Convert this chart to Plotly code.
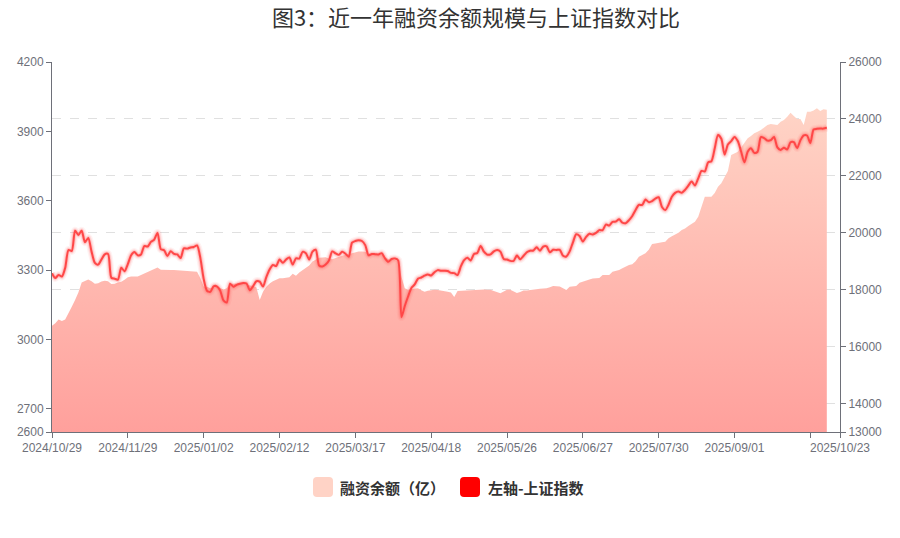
import pandas as pd
import plotly.graph_objects as go

# ---- categories: trading days (SSE calendar) ----
holidays = ["2025-01-01", "2025-01-28", "2025-01-29", "2025-01-30", "2025-01-31",
            "2025-02-03", "2025-02-04", "2025-04-04", "2025-05-01", "2025-05-02",
            "2025-05-05", "2025-06-02", "2025-10-01", "2025-10-02", "2025-10-03",
            "2025-10-06", "2025-10-07", "2025-10-08"]
days = pd.bdate_range("2024-10-29", "2025-10-23")
days = [d for d in days if d.strftime("%Y-%m-%d") not in holidays]
dates = [d.strftime("%Y/%m/%d") for d in days]

# 上证指数 (left axis)
sh_index = [
    3286, 3266, 3279, 3272, 3310, 3387, 3383, 3470, 3452, 3470,
    3421, 3439, 3380, 3331, 3324, 3346, 3368, 3370, 3267, 3263,
    3259, 3310, 3295, 3326, 3364, 3378, 3364, 3368, 3404, 3402,
    3422, 3432, 3461, 3391, 3386, 3361, 3382, 3370, 3368, 3352,
    3394, 3393, 3398, 3400, 3407, 3352, 3262, 3211, 3206, 3230,
    3230, 3212, 3169, 3160, 3241, 3228, 3236, 3241, 3244, 3242,
    3213, 3231, 3252, 3250, 3229, 3270, 3303, 3322, 3318, 3346,
    3332, 3346, 3355, 3324, 3351, 3350, 3379, 3373, 3346, 3380,
    3388, 3320, 3316, 3324, 3342, 3381, 3372, 3366, 3379, 3371,
    3358, 3419, 3426, 3429, 3426, 3408, 3364, 3370, 3369, 3368,
    3373, 3351, 3336, 3348, 3350, 3342, 3097, 3145, 3186, 3223,
    3238, 3263, 3268, 3276, 3281, 3277, 3291, 3300, 3297, 3297,
    3296, 3288, 3287, 3279, 3316, 3343, 3353, 3342, 3370, 3374,
    3404, 3380, 3367, 3368, 3381, 3387, 3380, 3348, 3346, 3340,
    3340, 3363, 3347, 3361, 3377, 3384, 3385, 3399, 3384, 3402,
    3403, 3377, 3388, 3387, 3388, 3362, 3359, 3381, 3420, 3455,
    3448, 3424, 3444, 3457, 3454, 3461, 3473, 3473, 3497, 3493,
    3509, 3510, 3520, 3505, 3503, 3516, 3534, 3560, 3582, 3582,
    3605, 3594, 3598, 3609, 3615, 3573, 3560, 3583, 3617, 3634,
    3640, 3635, 3647, 3665, 3683, 3666, 3697, 3729, 3727, 3766,
    3771, 3826, 3884, 3868, 3800, 3843, 3858, 3876, 3858, 3813,
    3766, 3812, 3827, 3807, 3812, 3875, 3871, 3860, 3862, 3876,
    3831, 3820, 3829, 3822, 3853, 3853, 3828, 3862, 3883, 3882,
    3850, 3908, 3911, 3912, 3912, 3916]

# 融资余额（亿） (right axis)
margin_balance = [
    16730, 16820, 16950, 16900, 16950, 17150, 17400, 17640, 17900, 18250,
    18320, 18360, 18300, 18210, 18230, 18290, 18310, 18300, 18200, 18210,
    18250, 18280, 18350, 18440, 18460, 18450, 18460, 18520, 18570, 18630,
    18690, 18740, 18780, 18700, 18690, 18700, 18690, 18690, 18680, 18670,
    18660, 18650, 18640, 18630, 18630, 18400, 18110, 18100, 18050, 18080,
    18100, 18060, 18010, 18050, 18200, 18210, 18220, 18230, 18230, 18200,
    18150, 18130, 18080, 17640, 17930, 18100, 18220, 18300, 18360, 18400,
    18400, 18430, 18440, 18560, 18490, 18600, 18680, 18750, 18850, 18990,
    19050, 19120, 19130, 19140, 19100, 19070, 19110, 19160, 19190, 19220,
    19250, 19280, 19310, 19340, 19340, 19330, 19270, 19240, 19230, 19220,
    19220, 19150, 19070, 19050, 19040, 18990, 18450, 18050, 18000, 18020,
    18040, 18047, 17980, 17930, 17960, 17990, 18000, 17990, 17970, 17970,
    17930, 17900, 17740, 17950, 17960, 17970, 17970, 17980, 17990, 18000,
    18000, 18010, 18000, 18000, 17950, 17900, 17873, 17940, 18000, 18000,
    17950, 17880, 17920, 17970, 17970, 17990, 18010, 18020, 18030, 18040,
    18047, 18090, 18130, 18120, 18110, 18047, 17989, 18100, 18110, 18130,
    18247, 18290, 18320, 18360, 18390, 18400, 18410, 18516, 18510, 18520,
    18633, 18650, 18692, 18750, 18820, 18867, 18890, 19000, 19160, 19220,
    19278, 19400, 19605, 19620, 19652, 19670, 19687, 19804, 19880, 19945,
    20000, 20097, 20150, 20238, 20300, 20390, 20565, 20917, 21268, 21268,
    21268, 21400, 21620, 21737, 21971, 22170, 22733, 22790, 22850, 23000,
    23143, 23318, 23400, 23495, 23550, 23610, 23700, 23787, 23820, 23800,
    23787, 23900, 23962, 24079, 24220, 24100, 24000, 24000, 23787, 24254,
    24254, 24300, 24373, 24278, 24340, 24320]

x_tick_dates = ["2024/10/29", "2024/11/29", "2025/01/02", "2025/02/12", "2025/03/17",
                "2025/04/18", "2025/05/26", "2025/06/27", "2025/07/30", "2025/09/01",
                "2025/10/10", "2025/10/23"]
x_tick_text = ["2024/10/29", "2024/11/29", "2025/01/02", "2025/02/12", "2025/03/17",
               "2025/04/18", "2025/05/26", "2025/06/27", "2025/07/30", "2025/09/01",
               "", "2025/10/23"]
left_ticks = [2600, 2700, 3000, 3300, 3600, 3900, 4200]
right_ticks = [13000, 14000, 16000, 18000, 20000, 22000, 24000, 26000]
legend_names = ["融资余额（亿）", "左轴-上证指数"]
legend_colors = ["#ffd3c6", "#ff0000"]

n = len(sh_index)
xd = dates[:n]

AX = "#6e7079"
fig = go.Figure()

# area on right-side axis
fig.add_trace(go.Scatter(
    x=xd, y=margin_balance, mode="lines", line=dict(width=0), fill="tozeroy",
    fillgradient=dict(type="vertical", start=13000, stop=24373,
                      colorscale=[[0, "rgb(255,160,156)"], [1, "rgb(255,212,198)"]]),
    name=legend_names[0], showlegend=False, yaxis="y", hoverinfo="skip"))

# glowing line on left axis (overlaying, drawn above)
for w, c in [(8, "rgba(255,90,90,0.08)"), (5.5, "rgba(255,90,90,0.14)"), (3.5, "rgba(255,90,90,0.25)")]:
    fig.add_trace(go.Scatter(x=xd, y=sh_index, mode="lines",
                             line=dict(width=w, color=c, shape="spline", smoothing=0.7),
                             showlegend=False, yaxis="y2", hoverinfo="skip"))
fig.add_trace(go.Scatter(x=xd, y=sh_index, mode="lines", name=legend_names[1],
                         line=dict(width=2, color="#ff4747", shape="spline", smoothing=0.7),
                         showlegend=False, yaxis="y2"))

# ---- manual legend (page pixel geometry -> paper coords) ----
PL, PR, PT, PB = 52, 840, 62, 432
def px_x(X):
    return (X - PL) / (PR - PL)
def px_y(Y):
    return (PB - Y) / (PB - PT)

def rounded_rect(X0, Y0, X1, Y1, r):
    x0, x1 = px_x(X0), px_x(X1)
    ya, yb = px_y(Y1), px_y(Y0)  # bottom, top
    rx = r / (PR - PL)
    ry = r / (PB - PT)
    return (f"M {x0+rx},{ya} L {x1-rx},{ya} Q {x1},{ya} {x1},{ya+ry} "
            f"L {x1},{yb-ry} Q {x1},{yb} {x1-rx},{yb} L {x0+rx},{yb} "
            f"Q {x0},{yb} {x0},{yb-ry} L {x0},{ya+ry} Q {x0},{ya} {x0+rx},{ya} Z")

shapes = []
annotations = []
for sx, tx, name, col in [(313, 338, legend_names[0], legend_colors[0]),
                          (460, 486, legend_names[1], legend_colors[1])]:
    shapes.append(dict(type="path", xref="paper", yref="paper",
                       path=rounded_rect(sx, 477, sx + 20, 497, 4),
                       fillcolor=col, line=dict(width=0)))
    annotations.append(dict(text=name, xref="paper", yref="paper", x=px_x(tx), y=px_y(487.5),
                            xanchor="left", yanchor="middle", showarrow=False,
                            font=dict(family="Noto Sans CJK SC", size=15, color="#333333",
                                      weight="bold")))

tickfont = dict(family="Liberation Sans, Arial, sans-serif", size=12, color=AX)
W, H = 900, 538
fig.update_layout(
    width=W, height=H,
    margin=dict(l=PL, r=W - PR, t=PT, b=H - PB),
    paper_bgcolor="white", plot_bgcolor="white",
    title=dict(text="图3：近一年融资余额规模与上证指数对比",
               font=dict(family="Noto Sans CJK SC", size=22, color="#333333"),
               x=476 / W, xanchor="center", xref="container",
               y=1 - 18 / H, yanchor="middle", yref="container"),
    xaxis=dict(type="category", categoryorder="array", categoryarray=dates,
               range=[0, len(dates) - 1], tickmode="array",
               tickvals=x_tick_dates, ticktext=x_tick_text,
               showgrid=False, showline=True, linecolor=AX, linewidth=1,
               ticks="outside", ticklen=5, tickcolor=AX, tickfont=tickfont,
               zeroline=False),
    yaxis=dict(side="right", range=[13000, 26000], tickmode="array", tickvals=right_ticks,
               ticktext=[str(v) for v in right_ticks],
               showgrid=True, gridcolor="#e0e0e0", griddash="dash", gridwidth=1,
               showline=True, linecolor=AX, linewidth=1, ticks="outside", ticklen=5,
               tickcolor=AX, tickfont=tickfont, zeroline=False),
    yaxis2=dict(side="left", overlaying="y", range=[2600, 4200], tickmode="array",
                tickvals=left_ticks, ticktext=[str(v) for v in left_ticks],
                showgrid=False, showline=True, linecolor=AX,
                linewidth=1, ticks="outside", ticklen=5, tickcolor=AX, tickfont=tickfont,
                zeroline=False),
    shapes=shapes,
    annotations=annotations,
    showlegend=False,
)

# remove the page's default 8px body margin so the chart sits at (0,0)
fig.write_html("out.html", config={"displayModeBar": False},
               post_script="document.body.style.margin='0';")
